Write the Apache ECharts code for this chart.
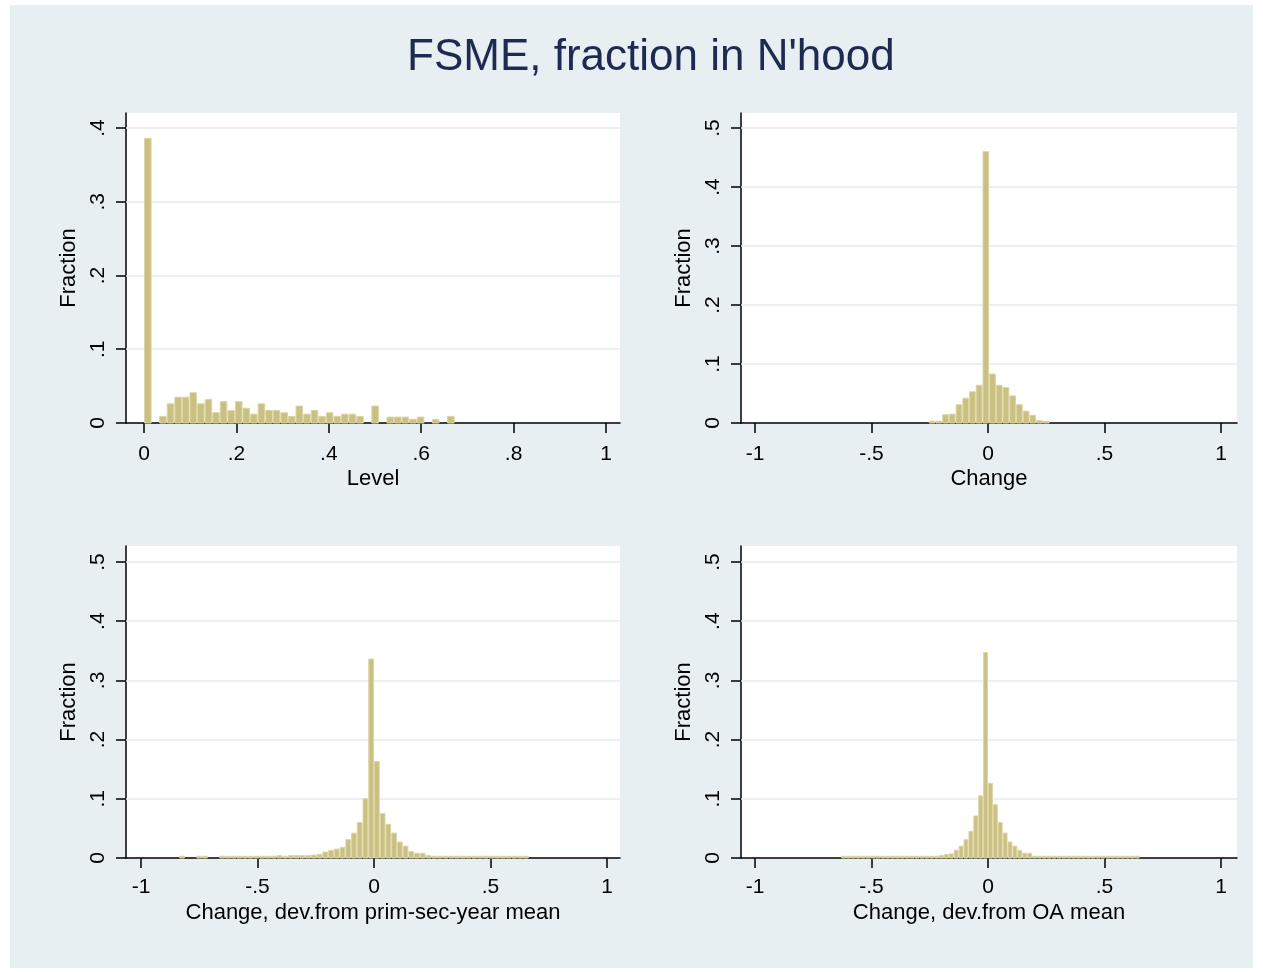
<!DOCTYPE html>
<html>
<head>
<meta charset="utf-8">
<title>FSME, fraction in N'hood</title>
<script src="https://cdn.jsdelivr.net/npm/echarts@6/dist/echarts.min.js"></script>
<style>
  html, body { margin: 0; padding: 0; background: #ffffff; }
  #container { width: 1263px; height: 972px; }
</style>
</head>
<body>
<div id="container"></div>
<script>
// histogram bins: first bin start, bin width, fraction per bin
const levelStart = 0;
const levelWidth = 0.0164;
const levelFrac = [
  0.386, 0, 0.009, 0.026, 0.035, 0.035, 0.041, 0.026, 0.032, 0.014,
  0.029, 0.017, 0.029, 0.020, 0.012, 0.026, 0.017, 0.017, 0.014, 0.009,
  0.023, 0.012, 0.017, 0.009, 0.014, 0.009, 0.012, 0.012, 0.009, 0,
  0.023, 0, 0.008, 0.008, 0.008, 0.005, 0.008, 0, 0.005, 0,
  0.009
];

const changeStart = -0.254;
const changeWidth = 0.0288;
const changeFrac = [
  0.003, 0.003, 0.014, 0.015, 0.031, 0.042, 0.053, 0.064, 0.460, 0.083,
  0.064, 0.060, 0.046, 0.031, 0.020, 0.013, 0.004, 0.003
];

const devPsyStart = -0.8364;
const devPsyWidth = 0.0246;
const devPsyFrac = [
  0.003, 0, 0, 0.003, 0.003, 0, 0, 0.003, 0.003, 0.003,
  0.003, 0.003, 0.003, 0.003, 0.003, 0.003, 0.003, 0.004, 0.003, 0.004,
  0.004, 0.004, 0.004, 0.005, 0.006, 0.010, 0.013, 0.015, 0.018, 0.031,
  0.042, 0.060, 0.100, 0.336, 0.163, 0.075, 0.057, 0.042, 0.027, 0.020,
  0.011, 0.008, 0.008, 0.004, 0.003, 0.003, 0.003, 0.003, 0.003, 0.003,
  0.003, 0.003, 0.003, 0.003, 0.003, 0.003, 0.003, 0.003, 0.003, 0.003,
  0.003
];

const devOaStart = -0.63;
const devOaWidth = 0.021;
const devOaFrac = [
  0.003, 0.003, 0.003, 0.003, 0.003, 0.003, 0.003, 0.003, 0.003, 0.003,
  0.003, 0.003, 0.003, 0.003, 0.003, 0.003, 0.003, 0.003, 0.003, 0.003,
  0.004, 0.006, 0.007, 0.013, 0.020, 0.031, 0.045, 0.071, 0.105, 0.347,
  0.126, 0.090, 0.060, 0.042, 0.027, 0.020, 0.013, 0.008, 0.008, 0.003,
  0.003, 0.003, 0.003, 0.003, 0.003, 0.003, 0.003, 0.003, 0.003, 0.003,
  0.003, 0.003, 0.003, 0.003, 0.003, 0.003, 0.003, 0.003, 0.003, 0.003,
  0.003
];

const xTicksLevel = [0, 0.2, 0.4, 0.6, 0.8, 1];
const xTicksChange = [-1, -0.5, 0, 0.5, 1];
const yTicksLevel = [0, 0.1, 0.2, 0.3, 0.4];
const yTicksChange = [0, 0.1, 0.2, 0.3, 0.4, 0.5];

const xTitles = ['Level', 'Change', 'Change, dev.from prim-sec-year mean', 'Change, dev.from OA mean'];

const FONT = "'Liberation Sans', Arial, sans-serif";
const barFill = '#cac081';
const barEdge = '#dcd5a6';
const gridColor = '#e4ecef';
const panelBg = '#e8eff2';

var dom = document.getElementById('container');
var myChart = echarts.init(dom, null, { renderer: 'canvas' });

// turn bins into [x0, x1, fraction], skipping empty bins
function toBins(start, width, frac) {
  const out = [];
  frac.forEach((v, i) => {
    if (v > 0) out.push([start + i * width, start + (i + 1) * width, v]);
  });
  return out;
}

function tickText(v) {
  if (v === 0) return '0';
  return String(v).replace('0.', '.');
}

function renderBin(params, api) {
  const top = api.coord([api.value(0), api.value(2)]);
  const base = api.coord([api.value(1), 0]);
  return {
    type: 'rect',
    shape: { x: top[0] + 0.5, y: top[1], width: base[0] - top[0] - 1, height: base[1] - top[1] },
    style: { fill: barFill, stroke: barEdge, lineWidth: 1 }
  };
}

const grids = [
  { left: 126, top: 113, width: 494, height: 310 },
  { left: 741, top: 113, width: 496, height: 310 },
  { left: 126, top: 546, width: 494, height: 312 },
  { left: 741, top: 546, width: 496, height: 312 }
].map(g => Object.assign(g, { show: true, backgroundColor: '#ffffff', borderWidth: 0 }));

const xRanges = [[-0.039, 1.0303], [-1.060, 1.0687], [-1.0644, 1.0558], [-1.060, 1.0687]];
const yMax = [0.4203, 0.5254, 0.527, 0.527];
const xTicks = [xTicksLevel, xTicksChange, xTicksChange, xTicksChange];
const yTicks = [yTicksLevel, yTicksChange, yTicksChange, yTicksChange];
const binData = [
  toBins(levelStart, levelWidth, levelFrac),
  toBins(changeStart, changeWidth, changeFrac),
  toBins(devPsyStart, devPsyWidth, devPsyFrac),
  toBins(devOaStart, devOaWidth, devOaFrac)
];

const axisLine = { show: true, onZero: false, lineStyle: { color: '#000000', width: 1.5 } };
const textStyle = { fontFamily: FONT, fontSize: 21, color: '#000000' };
const titleStyle = { fontFamily: FONT, fontSize: 22, color: '#000000' };

const xAxes = [0, 1, 2, 3].map(i => ({
  type: 'value',
  gridIndex: i,
  min: xRanges[i][0],
  max: xRanges[i][1],
  name: xTitles[i],
  nameLocation: 'middle',
  nameGap: i < 2 ? 45 : 44,
  nameTextStyle: titleStyle,
  axisLine: axisLine,
  axisTick: { show: true, length: 10, customValues: xTicks[i], lineStyle: { color: '#000', width: 1.5 } },
  axisLabel: Object.assign({ margin: i < 2 ? 21 : 19, customValues: xTicks[i], formatter: tickText }, textStyle),
  splitLine: { show: false }
}));

const yAxes = [0, 1, 2, 3].map(i => ({
  type: 'value',
  gridIndex: i,
  min: 0,
  max: yMax[i],
  name: 'Fraction',
  nameLocation: 'middle',
  nameRotate: 90,
  nameGap: 46,
  nameTextStyle: titleStyle,
  axisLine: axisLine,
  axisTick: { show: true, length: 10, customValues: yTicks[i], lineStyle: { color: '#000', width: 1.5 } },
  axisLabel: Object.assign({ margin: 17, rotate: 90, customValues: yTicks[i], formatter: tickText }, textStyle),
  splitLine: { show: false }
}));

const series = [0, 1, 2, 3].map(i => ({
  type: 'custom',
  xAxisIndex: i,
  yAxisIndex: i,
  renderItem: renderBin,
  encode: { x: [0, 1], y: 2 },
  data: binData[i],
  z: 2,
  markLine: {
    z: 1,
    silent: true,
    symbol: 'none',
    label: { show: false },
    animation: false,
    lineStyle: { color: gridColor, type: 'solid', width: 1.5 },
    data: yTicks[i].filter(v => v > 0).map(v => ({ yAxis: v }))
  }
}));

var option = {
  animation: false,
  backgroundColor: '#ffffff',
  textStyle: { fontFamily: FONT },
  title: {
    text: "FSME, fraction in N'hood",
    left: 402,
    top: 31,
    textStyle: { fontFamily: FONT, fontSize: 44, fontWeight: 'normal', color: '#1e2a52' }
  },
  graphic: [{
    type: 'rect',
    z: -10,
    silent: true,
    shape: { x: 10, y: 5, width: 1243, height: 963 },
    style: { fill: panelBg }
  }],
  grid: grids,
  xAxis: xAxes,
  yAxis: yAxes,
  series: series
};

myChart.setOption(option);
window.addEventListener('resize', myChart.resize);
</script>
</body>
</html>
